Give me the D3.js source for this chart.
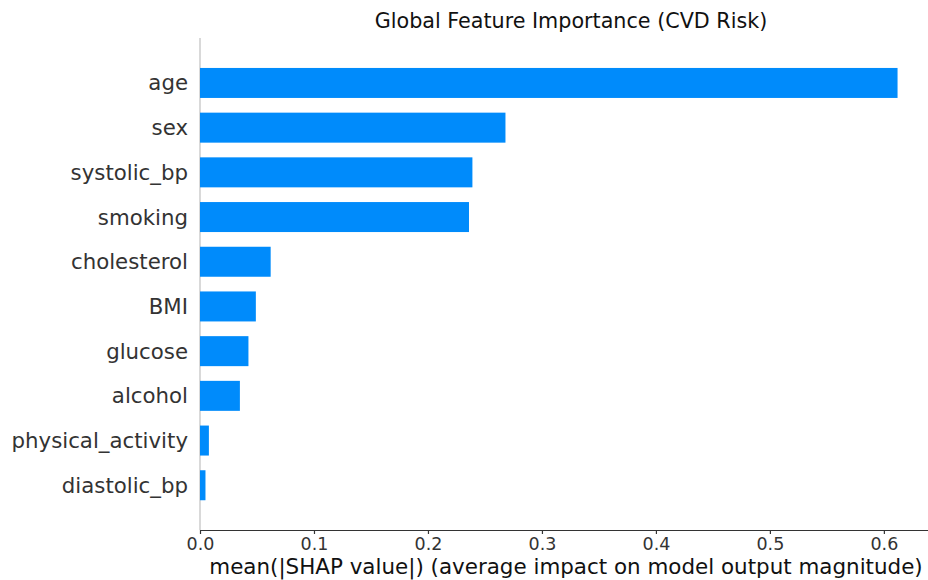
<!DOCTYPE html>
<html>
<head>
<meta charset="utf-8">
<script src="https://cdn.jsdelivr.net/npm/d3@7"></script>
<style>
  html, body { margin: 0; padding: 0; background: #ffffff; }
  svg { display: block; font-family: "DejaVu Sans", sans-serif; }
</style>
</head>
<body>
<svg id="chart" width="928" height="580"></svg>
<script>
// Mean absolute SHAP value per feature, ordered from most to least important
const features = ["age", "sex", "systolic_bp", "smoking", "cholesterol", "BMI", "glucose", "alcohol", "physical_activity", "diastolic_bp"];
const importance = [0.612, 0.268, 0.239, 0.236, 0.062, 0.049, 0.0425, 0.035, 0.0078, 0.0048];
const xTicks = [0.0, 0.1, 0.2, 0.3, 0.4, 0.5, 0.6];
const titleText = "Global Feature Importance (CVD Risk)";
const xLabelText = "mean(|SHAP value|) (average impact on model output magnitude)";

const svg = d3.select("#chart");
const plot = { left: 200, right: 942, top: 38, bottom: 530 };

const x = d3.scaleLinear().domain([0, 0.651]).range([plot.left, plot.right]);
const y = d3.scaleBand()
  .domain(features)
  .range([60.6, 507.6])
  .paddingInner(0.329)
  .paddingOuter(0.1645);

// zero line on the left of the bars
svg.append("line")
  .attr("x1", x(0)).attr("x2", x(0))
  .attr("y1", plot.top).attr("y2", plot.bottom)
  .attr("stroke", "#c0c0c0").attr("stroke-width", 1.2);

// bars
svg.append("g").selectAll("rect")
  .data(features)
  .join("rect")
  .attr("x", x(0))
  .attr("y", d => y(d))
  .attr("width", (d, i) => x(importance[i]) - x(0))
  .attr("height", y.bandwidth())
  .attr("fill", "#008bfb");

// feature labels
svg.append("g").selectAll("text")
  .data(features)
  .join("text")
  .attr("x", x(0) - 12)
  .attr("y", d => y(d) + y.bandwidth() / 2)
  .attr("text-anchor", "end")
  .attr("dominant-baseline", "central")
  .attr("font-size", 21.3)
  .attr("fill", "#333333")
  .text(d => d);

// bottom axis
const xAxis = d3.axisBottom(x)
  .tickValues(xTicks)
  .tickFormat(d3.format(".1f"))
  .tickSizeInner(4)
  .tickSizeOuter(0)
  .tickPadding(4);

const gx = svg.append("g")
  .attr("transform", `translate(0,${plot.bottom})`)
  .call(xAxis);
gx.select(".domain").attr("stroke", "#333333").attr("stroke-width", 1.2);
gx.selectAll(".tick line").attr("stroke", "#333333").attr("stroke-width", 1.2);
gx.selectAll(".tick text")
  .attr("font-family", "DejaVu Sans, sans-serif")
  .attr("font-size", 17.5)
  .attr("fill", "#333333");

// axis title, sized to sit between the zero line and the right edge
const xLabel = svg.append("text")
  .attr("x", 566)
  .attr("y", 566)
  .attr("text-anchor", "middle")
  .attr("dominant-baseline", "central")
  .attr("font-size", 21.5)
  .attr("fill", "#111111")
  .text(xLabelText);
const maxW = 922 - 208;
const w = xLabel.node().getComputedTextLength();
if (w > maxW) xLabel.attr("font-size", 21.5 * maxW / w);

// chart title
svg.append("text")
  .attr("x", 571)
  .attr("y", 21)
  .attr("text-anchor", "middle")
  .attr("dominant-baseline", "central")
  .attr("font-size", 20.7)
  .attr("fill", "#111111")
  .text(titleText);
</script>
</body>
</html>
